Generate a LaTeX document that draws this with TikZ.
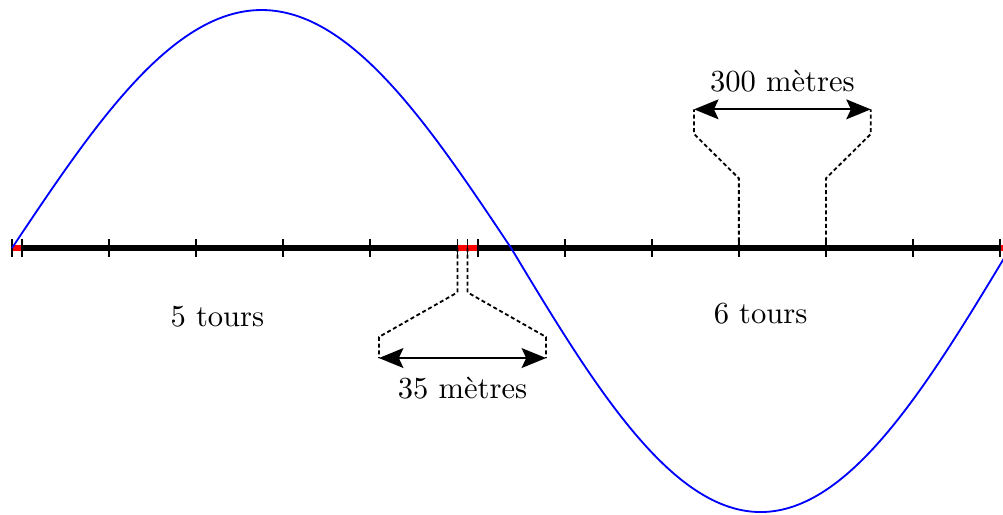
\documentclass[tikz,border=0pt]{standalone}
\usepackage{tikz}
\usetikzlibrary{arrows.meta}

\begin{document}
\begin{tikzpicture}[x=1cm,y=1cm,every node/.style={font=\normalsize},
  axe/.style={line width=2.2pt},
  marge/.style={red,line width=2.2pt},
  graduation/.style={semithick},
  renvoi/.style={semithick,dash pattern=on 1.3pt off 0.9pt},
  cote/.style={semithick,{Stealth[length=8pt,width=6.5pt,inset=1.5pt]}-{Stealth[length=8pt,width=6.5pt,inset=1.5pt]}}]
  \useasboundingbox (-0.138,-3.056) rectangle (11.384,2.849);
  \pgfmathsetmacro{\rab}{35/300}

  % axe
  \coordinate (d) at (0,0);
  \coordinate (f) at (4*\rab+11,0);
  \draw[axe] (d) -- (f);
  \draw[marge] (d) -- ++(\rab,0);
  \draw[marge] (5+\rab,0) -- ++(2*\rab,0);
  \draw[marge] (3*\rab+11,0) -- ++(\rab,0);

  % graduations
  \draw[graduation] (0,0.1) -- (0,-0.1);
  \foreach \k in {0,...,5} \draw[graduation] (\rab+\k,0.1) -- ++(0,-0.2);
  \draw[graduation] (2*\rab+5,0.1) -- ++(0,-0.2);
  \foreach \k in {0,...,6} \draw[graduation] (3*\rab+5+\k,0.1) -- ++(0,-0.2);

  % courbe
  \draw[blue,semithick] (d) sin (2.867,2.734) cos (5.733,0) sin (8.6,-3.033) cos (f);

  % 35 metres
  \coordinate (t1) at (5+\rab,0);
  \coordinate (t2) at (5+2*\rab,0);
  \coordinate (cg) at (4.215,-1.264);
  \coordinate (cd) at (6.135,-1.264);
  \draw[renvoi] (t1) -- ++(0,-0.51) -- (4.215,-1.022) -- (cg);
  \draw[renvoi] (t2) -- ++(0,-0.51) -- (6.135,-1.022) -- (cd);
  \draw[cote] (cg) -- node[below=2.5pt] (l35) {35 mètres} (cd);

  % 300 metres
  \coordinate (s1) at (8+3*\rab,0);
  \coordinate (s2) at (9+3*\rab,0);
  \coordinate (hg) at (7.835,1.593);
  \coordinate (hd) at (9.865,1.593);
  \draw[renvoi] (s1) -- ++(0,0.8) -- (7.835,1.31) -- (hg);
  \draw[renvoi] (s2) -- ++(0,0.8) -- (9.865,1.31) -- (hd);
  \draw[cote] (hg) -- node[above=2pt] (l300) {300 mètres} (hd);

  % tours
  \node[anchor=base] (cinq) at (2.36,-0.896) {5 tours};
  \node[anchor=base] (six) at (8.60,-0.862) {6 tours};
\end{tikzpicture}
\end{document}
